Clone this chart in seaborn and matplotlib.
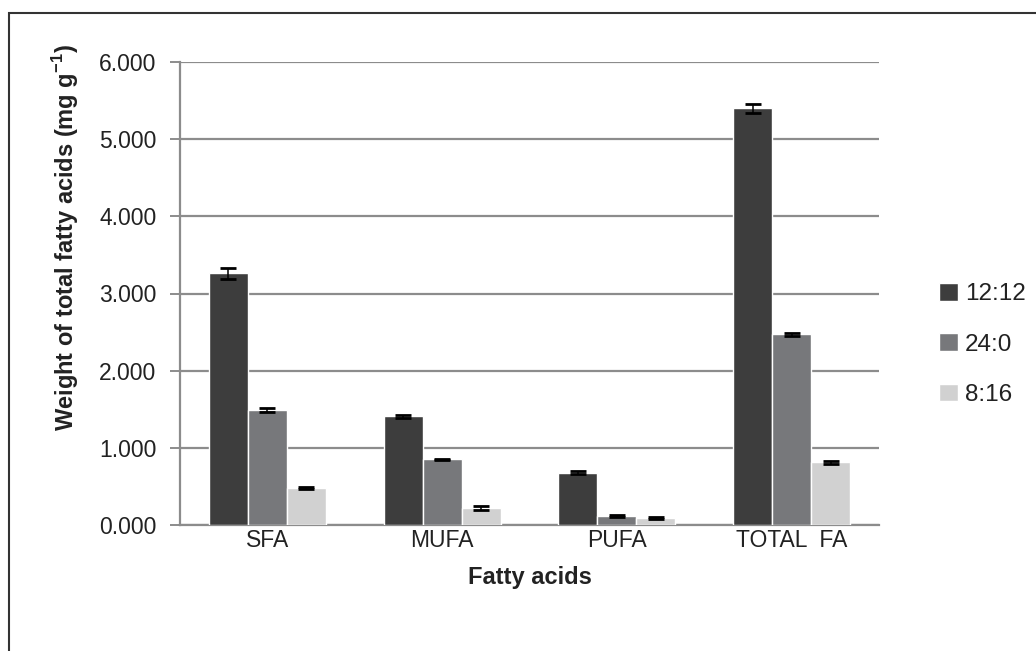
import numpy as np
import pandas as pd
import seaborn as sns
import matplotlib.pyplot as plt
from matplotlib.patches import Rectangle

# data
groups = ['SFA', 'MUFA', 'PUFA', 'TOTAL  FA']
photoperiods = ['12:12', '24:0', '8:16']
vals_1212 = [3.26, 1.41, 0.68, 5.40]
vals_240 = [1.49, 0.85, 0.12, 2.47]
vals_816 = [0.48, 0.22, 0.09, 0.81]
err_1212 = [0.07, 0.02, 0.02, 0.06]
err_240 = [0.02, 0.01, 0.01, 0.02]
err_816 = [0.01, 0.02, 0.01, 0.02]

bar_colors = ['#3d3d3d', '#77787b', '#d1d1d1']
grid_col = '#8c8c8c'
txt_col = '#222222'

rows = []
for p, vals in zip(photoperiods, [vals_1212, vals_240, vals_816]):
    for g, v in zip(groups, vals):
        rows.append({'group': g, 'period': p, 'value': v})
df = pd.DataFrame(rows)

sns.set_theme(style='white')
plt.rcParams['font.family'] = ['Liberation Sans', 'DejaVu Sans']

fig = plt.figure(figsize=(10.36, 6.51), dpi=100)
ax = fig.add_axes([180 / 1036, 1 - 525 / 651, 699 / 1036, 463 / 651])

sns.barplot(data=df, x='group', y='value', hue='period', order=groups,
            hue_order=photoperiods, palette=bar_colors, width=0.67,
            saturation=1, errorbar=None, ax=ax, zorder=3)

# error bars on top of each bar
for cont, errs in zip(ax.containers, [err_1212, err_240, err_816]):
    xs = [b.get_x() + b.get_width() / 2 for b in cont]
    hs = [b.get_height() for b in cont]
    ax.errorbar(xs, hs, yerr=errs, fmt='none', ecolor='black',
                elinewidth=1.1, capsize=5.5, capthick=2.0, zorder=4)

ax.set_ylim(0, 6)
ax.set_xlim(-0.5, 3.5)
ax.set_yticks(np.arange(0, 7, 1))
ax.set_yticklabels([f'{t:.3f}' for t in range(0, 7)], fontsize=16.5, color=txt_col)
ax.yaxis.grid(True, color=grid_col, linewidth=1.6, zorder=0)
ax.set_axisbelow(True)

ax.set_xticks(range(4))
ax.set_xticklabels(groups, fontsize=16.5, color=txt_col)
ax.set_xticks(np.arange(-0.5, 4, 1), minor=True)
ax.tick_params(axis='x', which='major', length=0, pad=3)
ax.tick_params(axis='x', which='minor', length=7, width=1.4, color=grid_col, direction='out')
ax.tick_params(axis='y', length=7, width=1.4, color=grid_col, direction='out', left=True, pad=10)

for s in ['top', 'right']:
    ax.spines[s].set_visible(False)
for s in ['left', 'bottom']:
    ax.spines[s].set_color(grid_col)
    ax.spines[s].set_linewidth(1.6)

ax.set_ylabel(r'Weight of total fatty acids (mg g$^{\mathregular{-1}}$)',
              fontsize=17, fontweight='bold', color=txt_col)
ax.yaxis.set_label_coords(-0.142, 0.62)
ax.set_xlabel('Fatty acids', fontsize=17, fontweight='bold', color=txt_col, labelpad=10)

leg = ax.legend(loc='center left', bbox_to_anchor=(1.055, 0.39), frameon=False,
                fontsize=17.5, handlelength=0.75, handleheight=0.75, handletextpad=0.3,
                labelspacing=1.15)
for t in leg.get_texts():
    t.set_color(txt_col)

# outer frame (only top and left visible in the cropped original)
fig.patches.append(Rectangle((9 / 1036, -0.1), 1.2, 1 - 13 / 651 + 0.1,
                             transform=fig.transFigure, fill=False,
                             edgecolor='#333333', linewidth=1.5))

fig.savefig('out.png', dpi=100, facecolor='white')
